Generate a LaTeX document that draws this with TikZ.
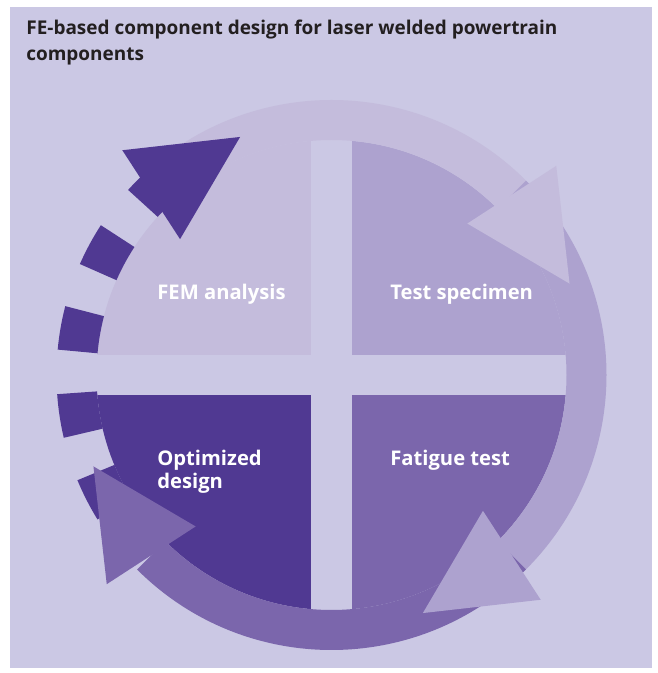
\documentclass[tikz,border=0pt]{standalone}
\usepackage{fontspec}
\setmainfont{Open Sans}
\usetikzlibrary{calc}
\definecolor{pagebg}{RGB}{203,200,228}
\definecolor{femlilac}{RGB}{196,188,220}
\definecolor{speclilac}{RGB}{173,162,207}
\definecolor{fatpurple}{RGB}{123,102,172}
\definecolor{optpurple}{RGB}{80,57,146}
\definecolor{titlegrey}{RGB}{35,31,32}

\begin{document}
\begin{tikzpicture}[
    x=0.02cm,
    y=0.02cm,
    titletext/.style={
        anchor=base west,
        inner sep=0pt,
        align=left,
        text=titlegrey,
        font=\fontsize{10.8}{15.2}\selectfont\bfseries
    },
    quadlabel/.style={
        anchor=base west,
        inner sep=0pt,
        align=left,
        text=white,
        font=\fontsize{11.5}{13.5}\selectfont\bfseries
    }
]

% ============================================================
% PAGE
% ============================================================

\useasboundingbox (0,0) rectangle (657,673);
\fill[white] (0,0) rectangle (657,673);
\fill[pagebg] (10,5) rectangle (652,666);

\coordinate (c) at (331.5,298);

% ============================================================
% FOUR QUADRANTS
% ============================================================

\begin{scope}
\clip (c) circle[radius=235];
\fill[femlilac]   ($(c)+(-250,20)$)   rectangle ($(c)+(-20.5,250)$);
\fill[speclilac]  ($(c)+(20.5,20)$)   rectangle ($(c)+(250,250)$);
\fill[fatpurple]  ($(c)+(20.5,-20)$)  rectangle ($(c)+(250,-250)$);
\fill[optpurple]  ($(c)+(-250,-20)$)  rectangle ($(c)+(-20.5,-250)$);
\end{scope}

% ============================================================
% RING OF ARROWS
% ============================================================

% solid shafts
\foreach \s/\e/\col in {135/45/femlilac, 45/-45/speclilac, -45/-135/fatpurple}
{
\fill[\col] ($(c)+(\s:275)$) arc[start angle=\s, end angle=\e, radius=275]
    -- ($(c)+(\e:235)$) arc[start angle=\e, end angle=\s, radius=235] -- cycle;
}

% dashed shaft
\foreach \a in {128.5,147,165.5,184,202.5}
{
\fill[optpurple] ($(c)+(\a:275)$) arc[start angle=\a, end angle=\a+9.2, radius=275]
    -- ($(c)+(\a+9.2:235)$) arc[start angle=\a+9.2, end angle=\a, radius=235] -- cycle;
}

% heads
\foreach \b/\col in {45/femlilac, -45/speclilac, -135/fatpurple, 135/optpurple}
{
\fill[\col] ($(c)+(\b:255)+(\b-12:53)$) -- ($(c)+(\b-24:255)$)
    -- ($(c)+(\b:255)+(\b+168:53)$) -- cycle;
}

% ============================================================
% LABELS
% ============================================================

\node[titletext] (title) at (26,612)
{FE-based component design for laser welded powertrain\\components};

\node[quadlabel] (fem) at (157,373) {FEM analysis};
\node[quadlabel] (spec) at (390,373) {Test specimen};
\node[quadlabel] (fatigue) at (390,207.5) {Fatigue test};
\node[quadlabel] (optim) at (157,184) {Optimized\\design};

\end{tikzpicture}
\end{document}
